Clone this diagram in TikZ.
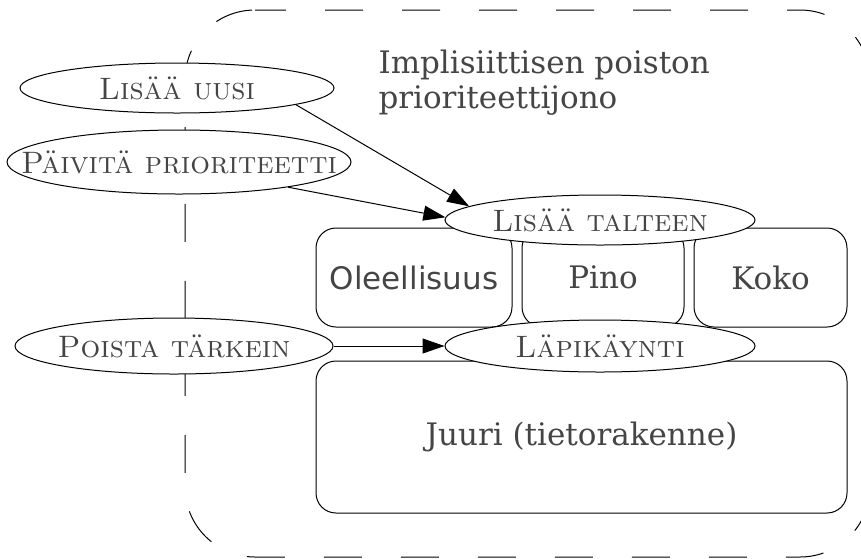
\documentclass[tikz,border=0pt]{standalone}
\usepackage{fontspec}
\newfontfamily\djserif{DejaVu Serif}
\newfontfamily\djsans{DejaVu Sans}
\usetikzlibrary{shapes.geometric,arrows.meta}
\definecolor{ink}{gray}{0.27}
\begin{document}
\begin{tikzpicture}[x=1pt,y=1pt,
  line width=1pt,
  op/.style={ellipse,draw,fill=white,inner sep=0pt},
  oplabel/.style={text=ink,inner sep=0pt,font=\fontsize{31}{36}\selectfont\scshape},
  part/.style={rectangle,draw,rounded corners=20pt,inner sep=0pt,text=ink},
  serifbig/.style={font=\djserif\fontsize{31}{35}\selectfont},
  sansbig/.style={font=\djsans\fontsize{31}{35}\selectfont},
  flow/.style={-{Triangle[length=22pt,width=15pt]}},
  frame/.style={dash pattern=on 38pt off 39pt,dash phase=7pt}]
\useasboundingbox (0,0) rectangle (861,-558);

% dashed outer frame of the queue
\draw[frame] (255,-10) -- (800,-10) arc[start angle=90,end angle=0,radius=70]
  -- (870,-487) arc[start angle=0,end angle=-90,radius=70]
  -- (255,-557) arc[start angle=270,end angle=180,radius=70]
  -- (185,-80) arc[start angle=180,end angle=90,radius=70] -- cycle;

% title
\node[serifbig,text=ink,anchor=north west,align=left,inner sep=0pt] (title) at (378,-49)
  {Implisiittisen poiston\\prioriteettijono};

% stored parts
\node[part,sansbig,minimum width=196pt,minimum height=99pt] (olee) at (414,-277.5) {Oleellisuus};
\node[part,serifbig,minimum width=162pt,minimum height=99pt] (pino) at (603,-277.5) {Pino};
\node[part,serifbig,minimum width=153pt,minimum height=99pt] (koko) at (770.5,-277.5) {Koko};
\node[part,serifbig,minimum width=531pt,minimum height=152pt] (juuri) at (581.5,-437) {Juuri (tietorakenne)};

% operations
\node[op,minimum width=314pt,minimum height=50pt] (uusi) at (177,-88) {};
\node[oplabel] (uusiT) at (uusi) {Lisää uusi};
\node[op,minimum width=344pt,minimum height=64pt] (paiv) at (179,-162) {};
\node[oplabel] (paivT) at (paiv) {Päivitä prioriteetti};
\node[op,minimum width=310pt,minimum height=50pt] (talteen) at (600,-220) {};
\node[oplabel] (talteenT) at (talteen) {Lisää talteen};
\node[op,minimum width=318pt,minimum height=56pt] (poista) at (174,-346) {};
\node[oplabel] (poistaT) at (poista) {Poista tärkein};
\node[op,minimum width=310pt,minimum height=52pt] (lapi) at (600,-346) {};
\node[oplabel] (lapiT) at (lapi) {Läpikäynti};

% connectors
\draw[flow] (uusi.-8) -- (talteen.174);
\draw[flow] (paiv.-13) -- (talteen.179);
\draw[flow] (poista.east) -- (lapi.west);
\end{tikzpicture}
\end{document}
